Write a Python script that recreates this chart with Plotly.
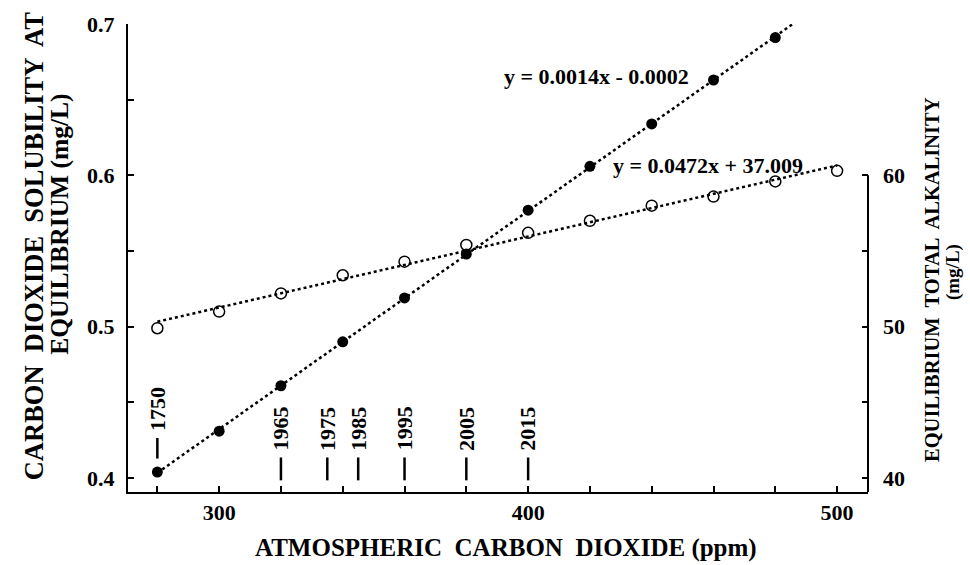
import numpy as np
import plotly.graph_objects as go

# ---- data ----
ppm_filled = [280, 300, 320, 340, 360, 380, 400, 420, 440, 460, 480]
solubility = [0.404, 0.431, 0.461, 0.490, 0.519, 0.548, 0.577, 0.606, 0.634, 0.663, 0.691]

ppm_open = [280, 300, 320, 340, 360, 380, 400, 420, 440, 460, 480, 500]
alkalinity = [49.9, 51.0, 52.2, 53.4, 54.3, 55.4, 56.2, 57.0, 58.0, 58.6, 59.6, 60.3]

years = ["1750", "1965", "1975", "1985", "1995", "2005", "2015"]
year_ppm = [280, 320, 335, 345, 360, 380, 400]

eq_filled = "y = 0.0014x - 0.0002"
eq_open = "y = 0.0472x + 37.009"

FONT = "Liberation Serif"

fig = go.Figure()

# trendlines (least squares through data)
tx = np.array([280, 500])
p1 = np.polyfit(ppm_filled, solubility, 1)
p2 = np.polyfit(ppm_open, alkalinity, 1)
fig.add_trace(go.Scatter(x=tx, y=np.polyval(p1, tx), mode="lines",
                         line=dict(color="black", width=2.5, dash="dot"),
                         showlegend=False, hoverinfo="skip"))
fig.add_trace(go.Scatter(x=tx, y=np.polyval(p2, tx), mode="lines", yaxis="y2",
                         line=dict(color="black", width=2.5, dash="dot"),
                         showlegend=False, hoverinfo="skip"))

fig.add_trace(go.Scatter(x=ppm_filled, y=solubility, mode="markers",
                         marker=dict(symbol="circle", size=11, color="black"),
                         showlegend=False))
fig.add_trace(go.Scatter(x=ppm_open, y=alkalinity, mode="markers", yaxis="y2",
                         marker=dict(symbol="circle-open", size=11, color="black",
                                     line=dict(width=1.5, color="black")),
                         showlegend=False))

tickfont = dict(family=FONT, size=22, color="black", weight="bold")
ymin = 0.3908
fig.update_layout(
    width=970, height=565,
    margin=dict(l=128, r=102, t=20, b=73),
    plot_bgcolor="white", paper_bgcolor="white",
    font=dict(family=FONT, size=22, color="black"),
    xaxis=dict(range=[270.5, 510], showline=True, linewidth=2, linecolor="black",
               ticks="inside", ticklen=6, tickwidth=2, tickcolor="black",
               tickvals=[300, 400, 500], showgrid=False, zeroline=False,
               tickfont=tickfont, ticklabelstandoff=0,
               minor=dict(ticks="inside", ticklen=6, tickwidth=2, tickcolor="black",
                          tickvals=[280, 320, 340, 360, 380, 420, 440, 460, 480])),
    yaxis=dict(range=[ymin, 0.7], showline=True, linewidth=2, linecolor="black",
               ticks="inside", ticklen=6, tickwidth=2, tickcolor="black",
               tickvals=[0.4, 0.5, 0.6, 0.7], ticktext=["0.4", "0.5", "0.6", "0.7"],
               showgrid=False, zeroline=False, tickfont=tickfont, ticklabelstandoff=7,
               minor=dict(ticks="inside", ticklen=6, tickwidth=2, tickcolor="black",
                          tickvals=[0.45, 0.55, 0.65])),
    yaxis2=dict(range=[ymin * 100, 70], overlaying="y", side="right", showline=False,
                ticks="inside", ticklen=6, tickwidth=2, tickcolor="black",
                tickvals=[40, 50, 60], showgrid=False, zeroline=False,
                tickfont=tickfont, ticklabelstandoff=14,
                minor=dict(ticks="inside", ticklen=6, tickwidth=2, tickcolor="black",
                           tickvals=[45, 55])),
)

# partial right axis line (from 60 down)
fig.add_shape(type="line", xref="paper", x0=1, x1=1, yref="y2", y0=60, y1=ymin * 100,
              line=dict(color="black", width=2))

bold = dict(family=FONT, size=22, color="black", weight="bold")

# year markers
for yr, xp in zip(years, year_ppm):
    if yr == "1750":
        tb, l0, l1 = 0.430, 0.4265, 0.4129
    else:
        tb, l0, l1 = 0.4168, 0.4136, 0.3985
    fig.add_annotation(x=xp, y=tb, xref="x", yref="y", text=yr, showarrow=False,
                       textangle=-90, xanchor="center", yanchor="bottom",
                       font=bold)
    fig.add_shape(type="line", xref="x", yref="y", x0=xp, x1=xp, y0=l0, y1=l1,
                  line=dict(color="black", width=2.5))

# equations
fig.add_annotation(x=422, y=0.6652, xref="x", yref="y", text=eq_filled, showarrow=False,
                   font=bold, xanchor="center", yanchor="middle")
fig.add_annotation(x=458.3, y=0.6062, xref="x", yref="y", text=eq_open, showarrow=False,
                   font=bold, xanchor="center", yanchor="middle")

# axis titles
fig.add_annotation(x=0.511, y=-0.119, xref="paper", yref="paper",
                   text="ATMOSPHERIC  CARBON  DIOXIDE (ppm)", showarrow=False,
                   font=dict(family=FONT, size=25, color="black", weight="bold"),
                   xanchor="center", yanchor="middle")
fig.add_annotation(x=0, y=0.525, xref="paper", yref="paper", xshift=-94,
                   text="CARBON  DIOXIDE  SOLUBILITY  AT", showarrow=False,
                   textangle=-90,
                   font=dict(family=FONT, size=26.5, color="black", weight="bold"),
                   xanchor="center", yanchor="middle")
fig.add_annotation(x=0, y=0.571, xref="paper", yref="paper", xshift=-68,
                   text="EQUILIBRIUM (mg/L)", showarrow=False,
                   textangle=-90,
                   font=dict(family=FONT, size=25.5, color="black", weight="bold"),
                   xanchor="center", yanchor="middle")
fig.add_annotation(x=1, y=0.453, xref="paper", yref="paper", xshift=64,
                   text="EQUILIBRIUM  TOTAL  ALKALINITY", showarrow=False,
                   textangle=-90,
                   font=dict(family=FONT, size=20.5, color="black", weight="bold"),
                   xanchor="center", yanchor="middle")
fig.add_annotation(x=1, y=0.47, xref="paper", yref="paper", xshift=85,
                   text="(mg/L)", showarrow=False, textangle=-90,
                   font=dict(family=FONT, size=19, color="black", weight="bold"),
                   xanchor="center", yanchor="middle")

fig.write_html("out.html")
